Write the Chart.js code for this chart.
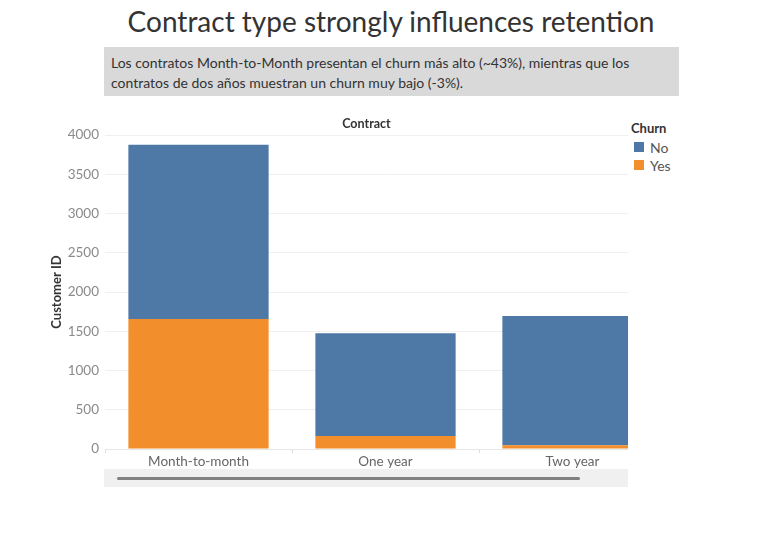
<!DOCTYPE html>
<html>
<head>
<meta charset="utf-8">
<script src="https://cdn.jsdelivr.net/npm/chart.js@4"></script>
<style>
  body { margin: 0; background: #fff; font-family: Lato, "Open Sans", sans-serif; }
  #page { position: relative; width: 768px; height: 538px; overflow: hidden; }
  #title { position: absolute; left: 0; width: 782px; top: 4px; text-align: center; font-size: 28px; color: #333; }
  #note { position: absolute; left: 104px; top: 47px; width: 568px; height: 49px; background: #d9d9d9;
          font-size: 14px; color: #333; padding: 0 0 0 7px; line-height: 20px; box-sizing: content-box; }
  #note div { padding-top: 6px; }
  #header { position: absolute; left: 105px; width: 523px; top: 116px; text-align: center; font-size: 12.5px; font-weight: bold; color: #333; }
  #clip { position: absolute; left: 0; top: 0; width: 628px; height: 538px; overflow: hidden; }
  #legend { position: absolute; left: 631px; top: 120px; font-size: 13px; color: #333; }
  #legend .t { font-weight: bold; margin-bottom: 2px; }
  #legend .i { display: flex; align-items: center; height: 18px; color: #555; font-size: 14px; }
  #legend .s { width: 10px; height: 10px; margin: 0 6px 0 3px; }
  #scroll { position: absolute; left: 104px; top: 469px; width: 524px; height: 18px; background: #f0f0f0; }
  #thumb { position: absolute; left: 13px; top: 8px; width: 463px; height: 3px; background: #808080; border-radius: 2px; }
</style>
</head>
<body>
<div id="page">
  <div id="title">Contract type strongly influences retention</div>
  <div id="note"><div>Los contratos Month-to-Month presentan el churn más alto (~43%), mientras que los<br>contratos de dos años muestran un churn muy bajo (-3%).</div></div>
  <div id="clip"><canvas id="myChart" width="680" height="538"></canvas></div>
  <div id="header">Contract</div>
  <div id="legend"></div>
  <div id="scroll"><div id="thumb"></div></div>
</div>
<script>
const contracts = ["Month-to-month", "One year", "Two year"];
const churnNo = [2220, 1307, 1647];
const churnYes = [1655, 166, 48];
const yTicks = [0, 500, 1000, 1500, 2000, 2500, 3000, 3500, 4000];
const seriesNames = ["No", "Yes"];
const colors = ["#4e79a7", "#f28e2b"];

const legend = document.getElementById("legend");
legend.innerHTML = '<div class="t">Churn</div>' + seriesNames.map((n, i) =>
  '<div class="i"><span class="s" style="background:' + colors[i] + '"></span>' + n + '</div>').join("");

const ctx = document.getElementById("myChart").getContext("2d");

const myChart = new Chart(ctx, {
  type: "bar",
  data: {
    labels: contracts,
    datasets: [
      { label: "Yes", data: churnYes, backgroundColor: colors[1] },
      { label: "No", data: churnNo, backgroundColor: colors[0] },
    ],
  },
  options: {
    responsive: false,
    animation: false,
    layout: { padding: { left: 45, top: 135, right: 14, bottom: 65 } },
    datasets: { bar: { categoryPercentage: 1, barPercentage: 0.75 } },
    scales: {
      x: {
        stacked: true,
        afterFit: (s) => { s.height = 24; },
        ticks: { color: "#666", font: { family: "Lato", size: 13.5 }, padding: 1 },
        grid: { offset: true, drawOnChartArea: false, tickLength: 4, color: "#ddd" },
        border: { color: "#e6e6e6" },
      },
      y: {
        stacked: true,
        min: 0,
        max: 4000,
        afterFit: (s) => { s.width = 60; },
        afterBuildTicks: (s) => { s.ticks = yTicks.map((v) => ({ value: v })); },
        title: { display: true, text: "Customer ID", color: "#333", font: { family: "Lato", size: 13, weight: "bold" }, padding: { top: 4, bottom: 0 } },
        ticks: {
          color: "#8a8a8a",
          font: { family: "Lato", size: 13.5 },
          padding: 6,
          callback: (v) => String(v),
        },
        grid: { color: "#f0f0f0", tickLength: 0 },
        border: { display: false },
      },
    },
    plugins: {
      legend: { display: false },
      tooltip: { enabled: false },
    },
  },
});
</script>
</body>
</html>
